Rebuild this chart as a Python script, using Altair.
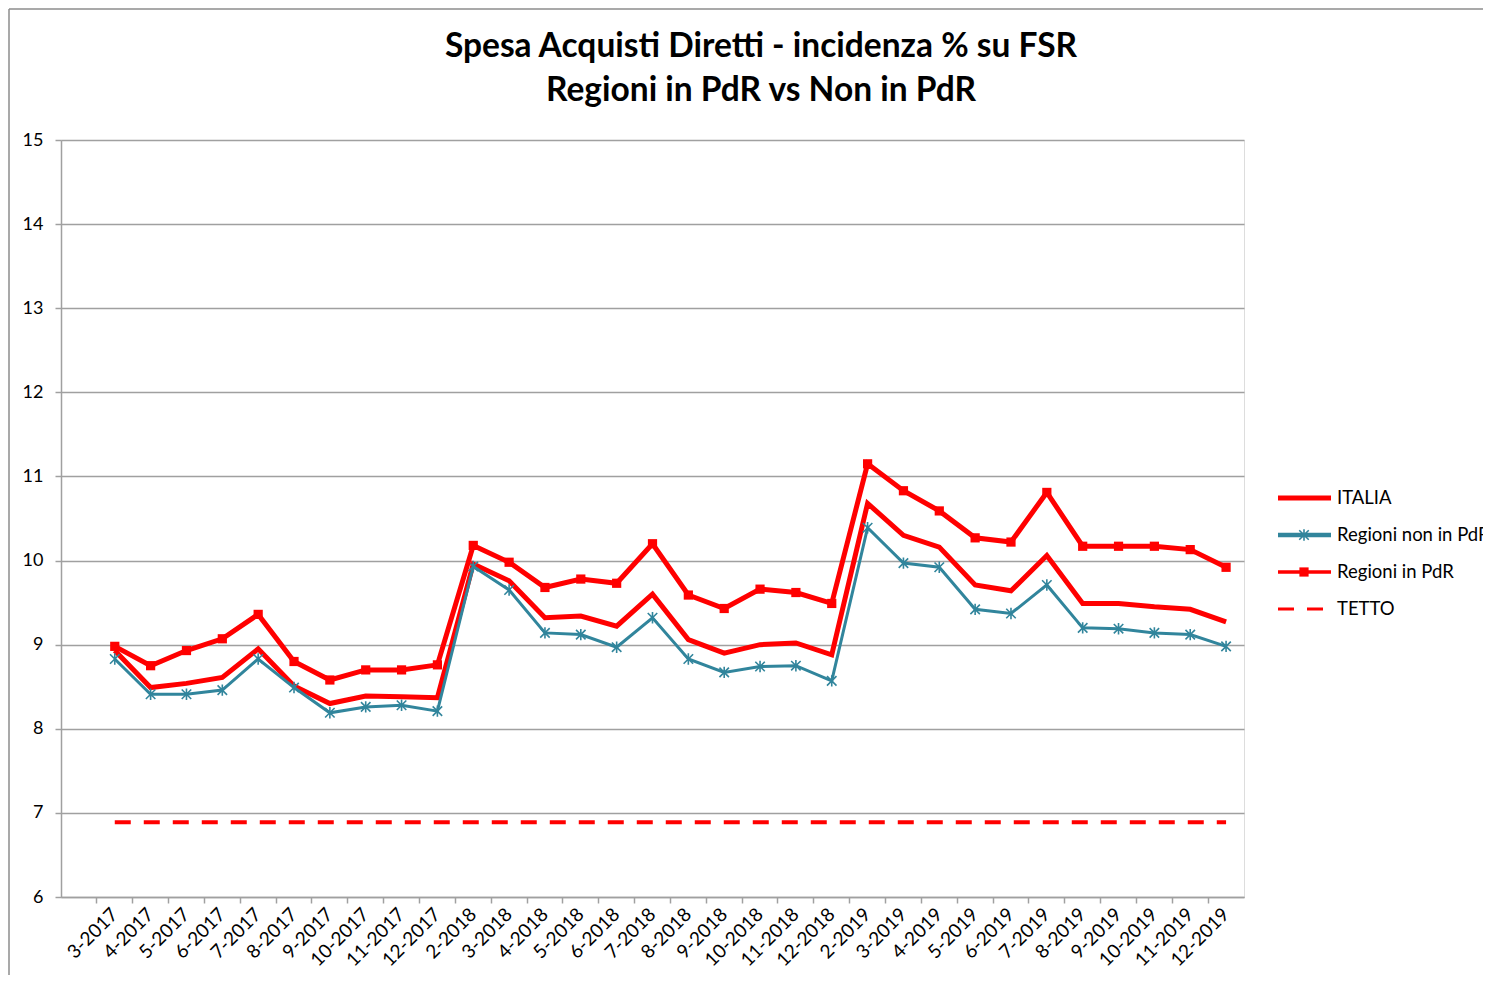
import altair as alt
import pandas as pd

months = ["3-2017", "4-2017", "5-2017", "6-2017", "7-2017", "8-2017", "9-2017", "10-2017", "11-2017", "12-2017",
          "2-2018", "3-2018", "4-2018", "5-2018", "6-2018", "7-2018", "8-2018", "9-2018", "10-2018", "11-2018", "12-2018",
          "2-2019", "3-2019", "4-2019", "5-2019", "6-2019", "7-2019", "8-2019", "9-2019", "10-2019", "11-2019", "12-2019"]

italia = [8.93, 8.49, 8.54, 8.61, 8.95, 8.51, 8.30, 8.39, 8.38, 8.37,
          9.96, 9.76, 9.32, 9.34, 9.22, 9.60, 9.06, 8.90, 9.00, 9.02, 8.88,
          10.68, 10.30, 10.16, 9.71, 9.64, 10.06, 9.49, 9.49, 9.45, 9.42, 9.27]

non_pdr = [8.83, 8.41, 8.41, 8.46, 8.83, 8.49, 8.19, 8.26, 8.28, 8.21,
           9.93, 9.65, 9.14, 9.12, 8.97, 9.32, 8.83, 8.67, 8.74, 8.75, 8.57,
           10.39, 9.97, 9.92, 9.42, 9.37, 9.71, 9.20, 9.19, 9.14, 9.12, 8.98]

pdr = [8.98, 8.75, 8.93, 9.07, 9.36, 8.80, 8.58, 8.70, 8.70, 8.76,
       10.18, 9.98, 9.68, 9.78, 9.73, 10.20, 9.59, 9.43, 9.66, 9.62, 9.49,
       11.15, 10.83, 10.59, 10.27, 10.22, 10.81, 10.17, 10.17, 10.17, 10.13, 9.92]

tetto = [6.89, 6.89, 6.89, 6.89, 6.89, 6.89, 6.89, 6.89, 6.89, 6.89,
         6.89, 6.89, 6.89, 6.89, 6.89, 6.89, 6.89, 6.89, 6.89, 6.89, 6.89,
         6.89, 6.89, 6.89, 6.89, 6.89, 6.89, 6.89, 6.89, 6.89, 6.89, 6.89]

series_names = ["ITALIA", "Regioni non in PdR", "Regioni in PdR", "TETTO"]

title_lines = ["Spesa Acquisti Diretti - incidenza % su FSR", "Regioni in PdR vs Non in PdR"]

RED = "#FF0000"
TEAL = "#31859C"
GRID = "#A0A0A0"
FONT = "Lato"
ASTERISK = "M-1,-1L1,1M-1,1L1,-1M0,-1.2L0,1.2"

W, H = 1183, 757

df = pd.DataFrame({"mese": months, "italia": italia, "non_pdr": non_pdr, "pdr": pdr, "tetto": tetto})

x_enc = alt.X(
    "mese:N",
    scale=alt.Scale(type="band", domain=months, paddingInner=0, paddingOuter=0.5, align=1),
    axis=alt.Axis(
        title=None, labelAngle=-45, labelAlign="right", labelBaseline="middle",
        labelFont=FONT, labelFontSize=19, labelColor="black", labelPadding=8,
        labelOffset=0, bandPosition=0, tickSize=6, tickColor=GRID,
        domainColor=GRID, domainWidth=1.5, tickWidth=1.5, grid=False, labelOverlap=False,
    ),
)

y_scale = alt.Scale(domain=[6, 15], nice=False, zero=False)
y_axis = alt.Axis(
    title=None, values=list(range(6, 16)), grid=True, gridColor=GRID, gridWidth=1.5,
    labelFont=FONT, labelFontSize=18, labelColor="black", labelPadding=12,
    tickSize=6, tickColor=GRID, tickWidth=1.5, domainColor=GRID, domainWidth=1.5,
)


def y_enc(col, axis=None):
    return alt.Y(f"{col}:Q", scale=y_scale, axis=axis)


base = alt.Chart(df)
dummy = alt.Chart(pd.DataFrame({"a": [0]}))

border_left = dummy.mark_rule(color="#8C8C8C", strokeWidth=1.5, clip=False).encode(
    x=alt.value(-52), y=alt.value(-131), y2=alt.value(900))
border_top = dummy.mark_rule(color="#8C8C8C", strokeWidth=1.5, clip=False).encode(
    x=alt.value(-52), x2=alt.value(1500), y=alt.value(-131))

# title as text marks
title_df = pd.DataFrame({"riga": title_lines})
title_text = alt.Chart(title_df).mark_text(
    align="center", baseline="middle", font=FONT, fontSize=33.5, fontWeight="bold", color="black"
).encode(
    x=alt.value(700),
    y=alt.Y("riga:N", scale=alt.Scale(type="point", domain=title_lines, range=[-93, -49], padding=0), axis=None),
    text="riga:N",
)

line_italia = base.mark_line(color=RED, strokeWidth=5).encode(x=x_enc, y=y_enc("italia", y_axis))
line_non = base.mark_line(color=TEAL, strokeWidth=3).encode(x=x_enc, y=y_enc("non_pdr"))
pts_non = base.mark_point(shape=ASTERISK, filled=False, color=TEAL, strokeWidth=1.6, size=90, opacity=1).encode(
    x=x_enc, y=y_enc("non_pdr"))
line_pdr = base.mark_line(color=RED, strokeWidth=5).encode(x=x_enc, y=y_enc("pdr"))
pts_pdr = base.mark_point(shape="square", filled=True, color=RED, size=85, opacity=1).encode(
    x=x_enc, y=y_enc("pdr"))
line_tetto = base.mark_line(color=RED, strokeWidth=4, strokeDash=[16, 13]).encode(x=x_enc, y=y_enc("tetto"))

# legend (manual)
leg_df = pd.DataFrame({"serie": series_names})
leg_y = alt.Y("serie:N", scale=alt.Scale(type="point", domain=series_names, range=[358, 469], padding=0), axis=None)
leg_color = alt.Color("serie:N", scale=alt.Scale(domain=series_names, range=[RED, TEAL, RED, RED]), legend=None)
leg_width = alt.StrokeWidth("serie:N", scale=alt.Scale(domain=series_names, range=[5, 3, 5, 4]), legend=None)
leg_dash = alt.StrokeDash("serie:N", scale=alt.Scale(domain=series_names, range=[[1, 0], [1, 0], [1, 0], [16, 13]]), legend=None)

leg = alt.Chart(leg_df)
leg_rules = leg.mark_rule().encode(
    x=alt.value(1217), x2=alt.value(1270), y=leg_y, color=leg_color, strokeWidth=leg_width, strokeDash=leg_dash)
leg_ast = leg.transform_filter(alt.datum.serie == series_names[1]).mark_point(
    shape=ASTERISK, filled=False, color=TEAL, strokeWidth=1.6, size=90, opacity=1
).encode(x=alt.value(1243), y=leg_y)
leg_sq = leg.transform_filter(alt.datum.serie == series_names[2]).mark_point(
    shape="square", filled=True, color=RED, size=85, opacity=1
).encode(x=alt.value(1243), y=leg_y)
leg_text = leg.mark_text(align="left", baseline="middle", font=FONT, fontSize=18.5, color="black").encode(
    x=alt.value(1276), y=leg_y, text="serie:N")

chart = alt.layer(
    border_left, border_top, title_text,
    line_italia, line_non, pts_non, line_pdr, pts_pdr, line_tetto,
    leg_rules, leg_ast, leg_sq, leg_text,
).resolve_scale(y="independent", color="independent", strokeWidth="independent", strokeDash="independent").properties(
    width=W, height=H,
    autosize=alt.AutoSizeParams(type="none"),
    padding={"left": 53, "top": 132, "right": 239, "bottom": 78},
).configure_view(stroke=None).configure(background="white")

chart.save("out.html", embed_options={"renderer": "svg", "actions": False})
